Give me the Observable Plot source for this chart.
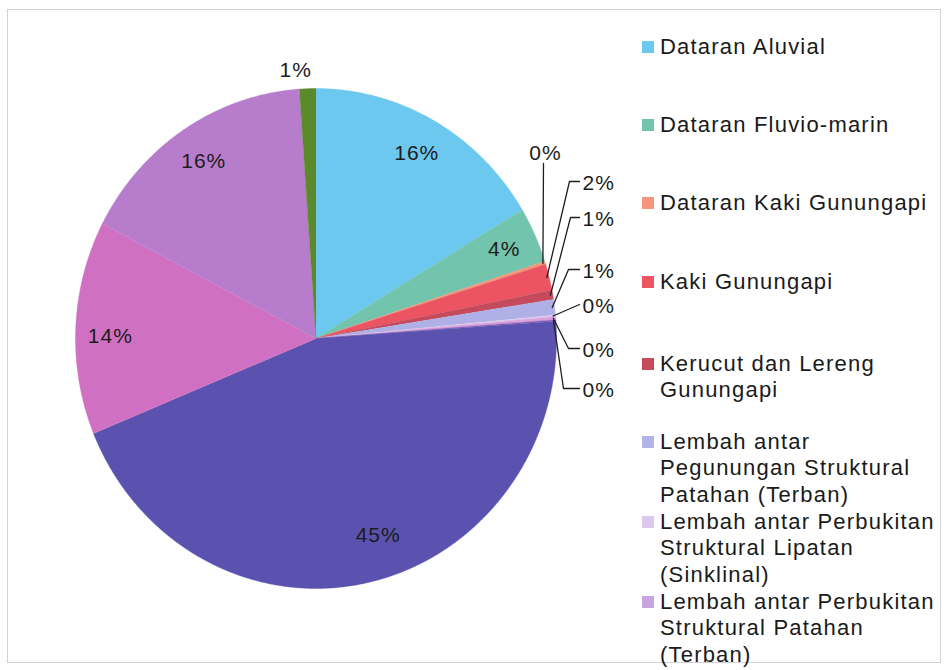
<!DOCTYPE html>
<html><head><meta charset="utf-8">
<script src="https://cdn.jsdelivr.net/npm/d3@7"></script>
<script src="https://cdn.jsdelivr.net/npm/@observablehq/plot@0.6"></script>
<style>
body{margin:0;background:#fff;}
#wrap{position:relative;width:944px;height:670px;overflow:hidden;font-family:"Liberation Sans",Arial,sans-serif;}
#wrap svg{position:absolute;left:0;top:0;}
#frame{position:absolute;left:7px;top:9px;width:934px;height:654px;border:1.5px solid #d2d2d2;box-sizing:border-box;}
.leg{position:absolute;left:642px;font-size:22px;letter-spacing:1.2px;line-height:26.5px;color:#1a1a1a;white-space:pre-line;padding-left:18px;}
.sw{position:absolute;left:0;top:7.5px;width:12px;height:12px;}
</style></head><body><div id="wrap"><div id="frame"></div></div>
<script>
// ---- data ----
const categories = [
  "Dataran Aluvial",
  "Dataran Fluvio-marin",
  "Dataran Kaki Gunungapi",
  "Kaki Gunungapi",
  "Kerucut dan Lereng Gunungapi",
  "Lembah antar Pegunungan Struktural Patahan (Terban)",
  "Lembah antar Perbukitan Struktural Lipatan (Sinklinal)",
  "Lembah antar Perbukitan Struktural Patahan (Terban)",
  "Kategori 9",
  "Kategori 10",
  "Kategori 11",
  "Kategori 12",
  "Kategori 13"
];
const values = [16.4, 3.6, 0.2, 1.7, 0.6, 1.0, 0.1, 0.2, 0.1, 44.9, 13.8, 16.3, 1.1];
const colors = ["#6cc8ee", "#72c4ac", "#f4967c", "#ec5462", "#c44a5c", "#aeb0e6", "#dcc8ee",
                "#d9a2dc", "#8a5cb8", "#5a52ae", "#d070c2", "#b87ccd", "#5a8a2c"];
const legendCount = 8;
const legendText = [
  "Dataran Aluvial",
  "Dataran Fluvio-marin",
  "Dataran Kaki Gunungapi",
  "Kaki Gunungapi",
  "Kerucut dan Lereng\nGunungapi",
  "Lembah antar\nPegunungan Struktural\nPatahan (Terban)",
  "Lembah antar Perbukitan\nStruktural Lipatan\n(Sinklinal)",
  "Lembah antar Perbukitan\nStruktural Patahan\n(Terban)"
];
const legendSwatch = ["#6cc8ee", "#72c4ac", "#f4967c", "#ec5462", "#c44a5c", "#b4b4e8", "#dcc8ee", "#c8a4e0"];

// ---- layout ----
const cx = 315.5, cy = 338, rx = 240.5, ry = 250;
const legendCenters = [47, 125, 203, 282, 364, 442, 522, 602];
// inside / outside labels: radius fraction and angle nudge (deg)
const labelPlace = {0: [0.85, 0], 1: [0.86, 0], 9: [0.83, -5], 10: [0.855, -2], 11: [0.85, 0], 12: [1.077, -2.5]};
// callout labels (pixel layout of text and elbow)
const callouts = {
  2: {lx: 545, ly: 153, anchor: "middle", elbow: null, vertical: true},
  3: {lx: 582, ly: 183, elbow: 569},
  4: {lx: 582, ly: 219, elbow: 570},
  5: {lx: 582, ly: 271, elbow: 568},
  6: {lx: 582, ly: 306, elbow: null},
  7: {lx: 582, ly: 350, elbow: 568},
  8: {lx: 582, ly: 390, elbow: 563}
};

// ---- geometry ----
const total = d3.sum(values);
const ux = px => (px - cx) / rx, uy = py => (cy - py) / ry;
let cum = 0;
const slices = values.map((v, i) => {
  const a0 = cum / total * 2 * Math.PI; cum += v;
  const a1 = cum / total * 2 * Math.PI;
  return {i, name: categories[i], a0, a1, mid: (a0 + a1) / 2, pct: Math.round(v / total * 100) + "%"};
});
const pts = [];
for (const s of slices) {
  pts.push({name: s.name, x: 0, y: 0});
  const n = Math.max(2, Math.ceil((s.a1 - s.a0) / (Math.PI / 720)));
  for (let k = 0; k <= n; k++) {
    const t = s.a0 + (s.a1 - s.a0) * k / n;
    pts.push({name: s.name, x: Math.sin(t), y: Math.cos(t)});
  }
}
const labels = [];
for (const [i, [r, da]] of Object.entries(labelPlace)) {
  const s = slices[i], t = s.mid + da * Math.PI / 180;
  labels.push({x: r * Math.sin(t), y: r * Math.cos(t), text: s.pct, anchor: "middle"});
}
const leaders = [];
for (const [i, c] of Object.entries(callouts)) {
  const s = slices[i];
  const sx = 0.99 * Math.sin(s.mid), sy = 0.99 * Math.cos(s.mid);
  labels.push({x: ux(c.lx), y: uy(c.ly), text: s.pct, anchor: c.anchor || "start"});
  const path = [{x: sx, y: sy}];
  if (c.vertical) path.push({x: ux(c.lx - 2), y: uy(c.ly + 10)});
  else {
    if (c.elbow) path.push({x: ux(c.elbow), y: uy(c.ly - 2)});
    path.push({x: ux(c.lx - 3), y: uy(c.ly - 2)});
  }
  path.forEach(p => leaders.push({...p, id: i}));
}

const chart = Plot.plot({
  width: 944, height: 670, margin: 0,
  x: {domain: [-1, 1], range: [cx - rx, cx + rx], axis: null},
  y: {domain: [-1, 1], range: [cy + ry, cy - ry], axis: null},
  color: {domain: categories, range: colors},
  style: {fontFamily: "'Liberation Sans', Arial, sans-serif", letterSpacing: "1px", background: "transparent"},
  marks: [
    Plot.line(pts, {x: "x", y: "y", z: "name", fill: "name", stroke: "name", strokeWidth: 0.4, curve: "linear"}),
    Plot.line(leaders, {x: "x", y: "y", z: "id", stroke: "#1e1e1e", strokeWidth: 1.3}),
    Plot.text(labels.filter(d => d.anchor === "middle"), {x: "x", y: "y", text: "text", fontSize: 21, fill: "#1c1c1c", textAnchor: "middle"}),
    Plot.text(labels.filter(d => d.anchor === "start"), {x: "x", y: "y", text: "text", fontSize: 21, fill: "#1c1c1c", textAnchor: "start"})
  ]
});
const wrap = document.getElementById("wrap");
wrap.insertBefore(chart, wrap.firstChild);

legendText.slice(0, legendCount).forEach((t, i) => {
  const d = document.createElement("div");
  d.className = "leg";
  d.style.top = (legendCenters[i] - 13.25) + "px";
  d.textContent = t;
  const sw = document.createElement("span");
  sw.className = "sw";
  sw.style.background = legendSwatch[i];
  d.appendChild(sw);
  wrap.appendChild(d);
});
</script></body></html>
